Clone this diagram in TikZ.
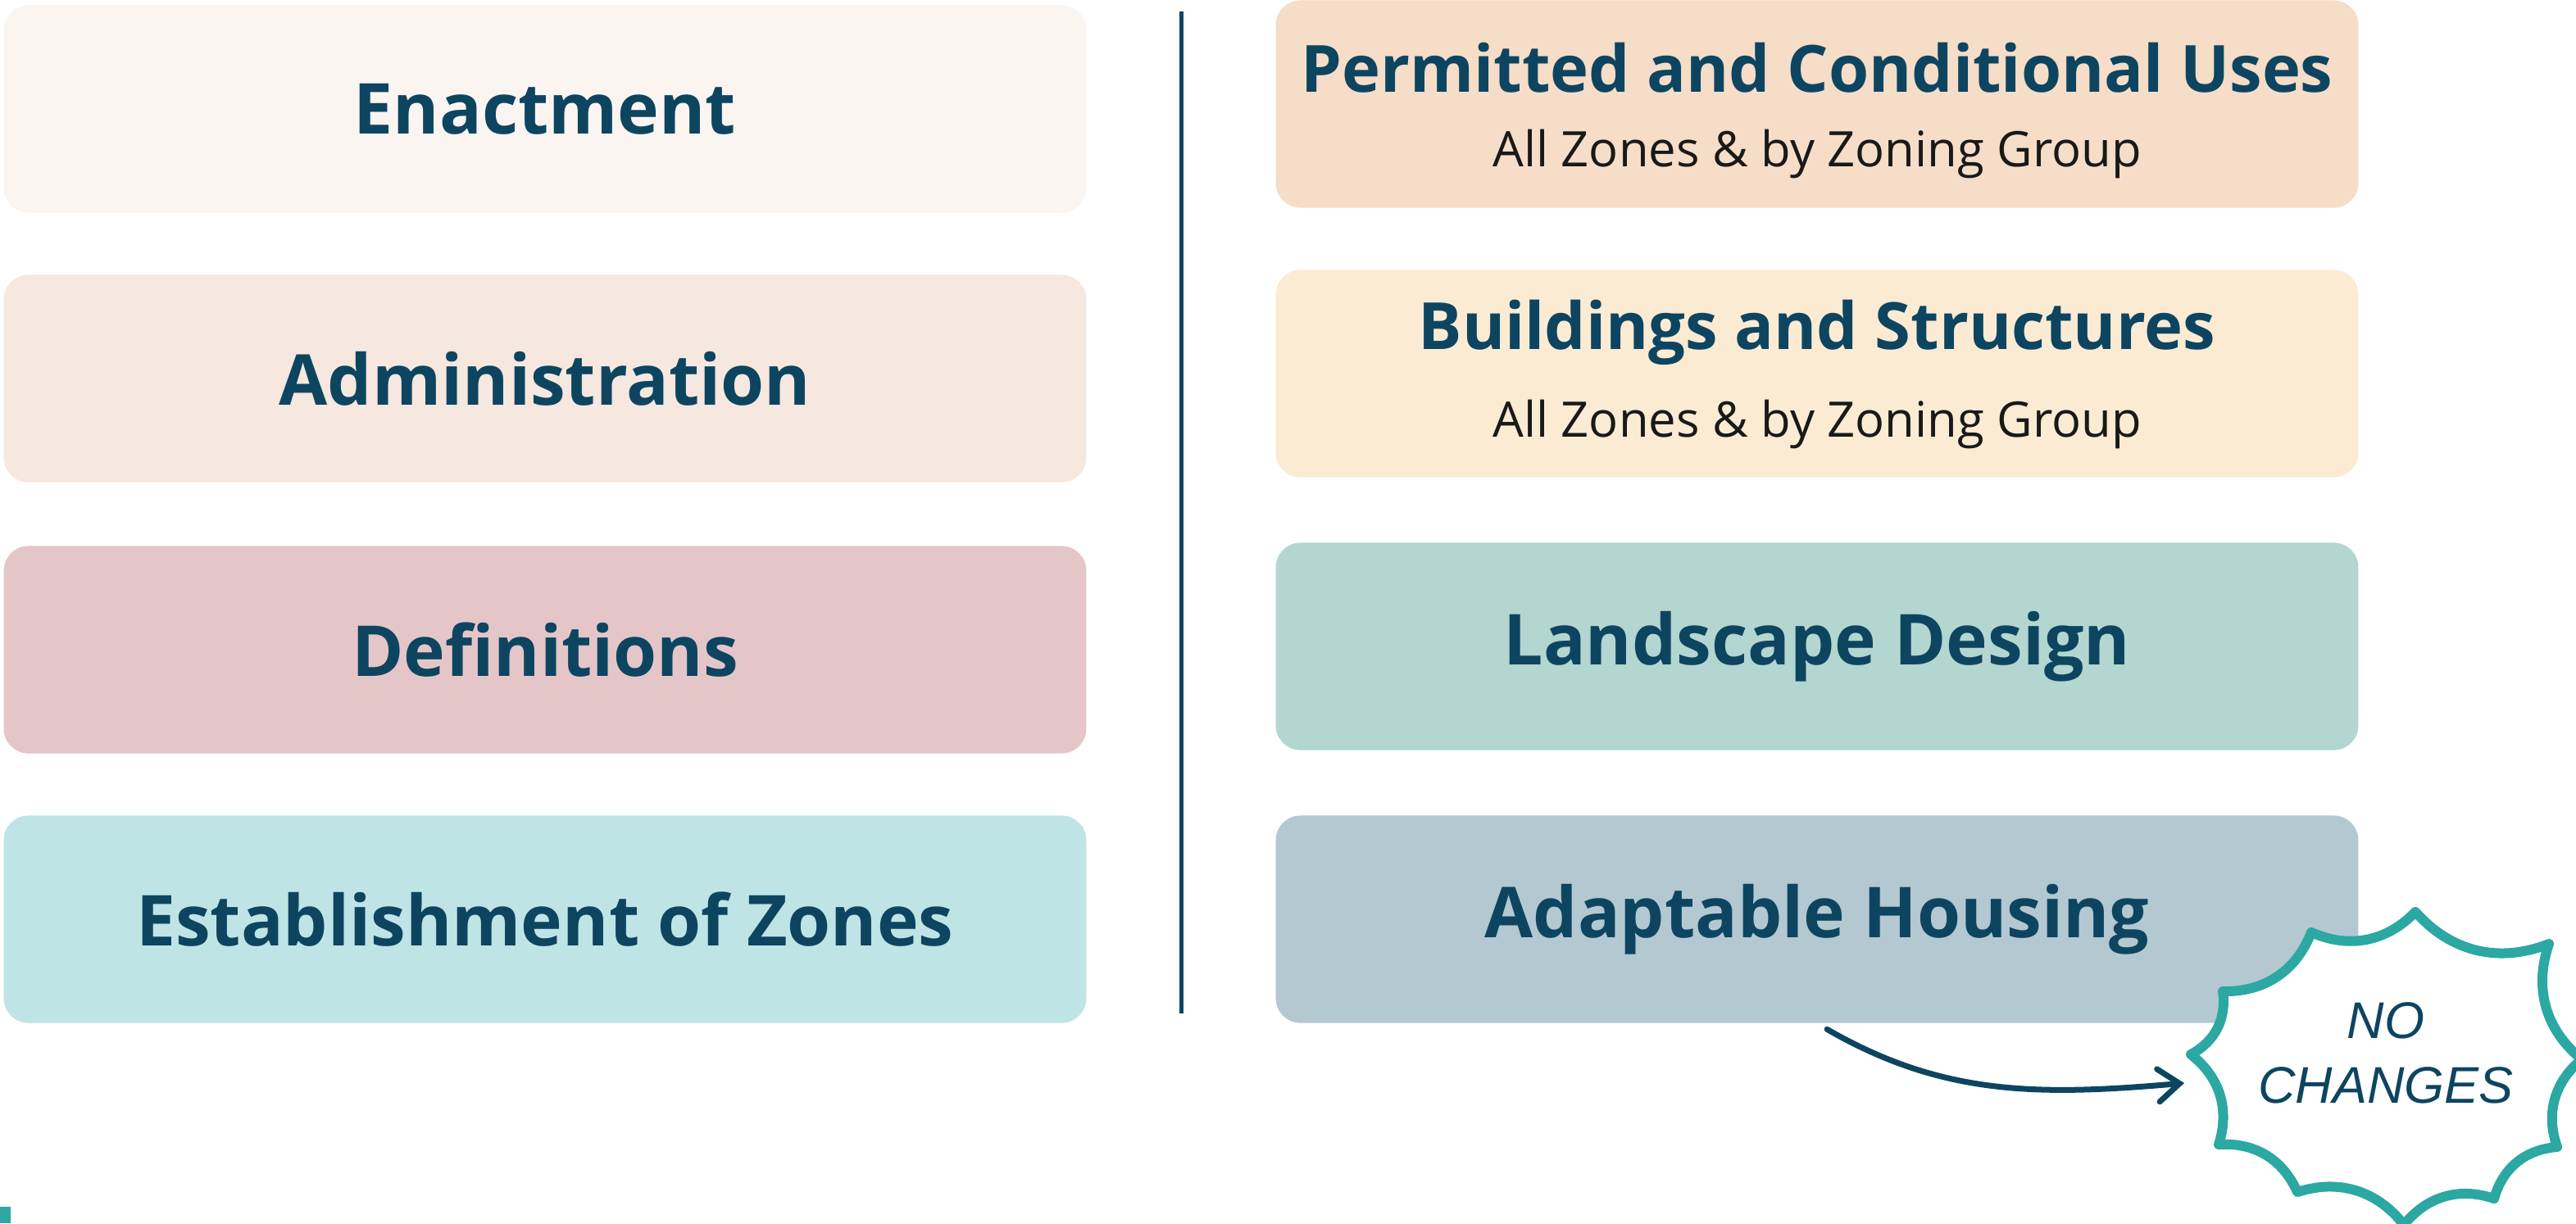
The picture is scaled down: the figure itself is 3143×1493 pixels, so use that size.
\documentclass[tikz,border=0pt]{standalone}
\usepackage{fontspec}
\setmainfont{Open Sans}
\newfontfamily\burstfont{Liberation Sans}
\usepackage{tikz}
\usetikzlibrary{positioning, arrows.meta}

\definecolor{ink}{HTML}{0D4561}
\definecolor{spark}{HTML}{2BA8A2}
\definecolor{enactbg}{HTML}{FBF5F2}
\definecolor{adminbg}{HTML}{F6E7DF}
\definecolor{definbg}{HTML}{E5C6C8}
\definecolor{estabbg}{HTML}{BFE4E5}
\definecolor{permitbg}{HTML}{F5DDC8}
\definecolor{buildbg}{HTML}{FBEBD3}
\definecolor{landbg}{HTML}{B4D6D0}
\definecolor{adaptbg}{HTML}{B4C8D2}

\tikzset{
  panel/.style={rounded corners=0.3cm, minimum width=13.2cm, minimum height=2.53cm,
    inner sep=0pt, text=ink, font=\fontsize{24.4}{28}\selectfont\bfseries},
  subline/.style={anchor=base, text=black!90, font=\fontsize{17}{20}\selectfont},
  headline/.style={anchor=base, text=ink, font=\fontsize{22.6}{26}\selectfont\bfseries},
  flow/.style={draw=ink, line width=0.07cm, line cap=round,
    -{Straight Barb[length=0.26cm, width=0.4cm, line cap=round]}},
  burst/.style={draw=spark, fill=white, line width=0.12cm, line join=round},
}

\begin{document}
\begin{tikzpicture}[x=0.01cm, y=-0.01cm]
    \useasboundingbox (0,0) rectangle (3143,1493);
    \fill[white] (0,0) rectangle (3143,1493);

    % Left column
    \foreach \n/\y/\c/\t in {enact/133/enactbg/Enactment, admin/462/adminbg/Administration,
      defin/793/definbg/Definitions, estab/1122/estabbg/Establishment of Zones} {
      \node[panel, fill=\c] (\n) at (665,\y) {\t};
    }

    % Divider
    \draw[ink, line width=0.05cm] (1441,14) -- (1441,1237);

    % Right column
    \foreach \n/\y/\c/\t in {permit/127/permitbg/{}, build/456/buildbg/{},
      land/789/landbg/Landscape Design, adapt/1122/adaptbg/Adaptable Housing} {
      \node[panel, fill=\c] (\n) at (2217,\y) {\t};
    }
    \node[headline] (permit-head) at (2217,112) {Permitted and Conditional Uses};
    \node[subline] (permit-sub) at (2217,203) {All Zones \& by Zoning Group};
    \node[headline] (build-head) at (2217,426) {Buildings and Structures};
    \node[subline] (build-sub) at (2217,533) {All Zones \& by Zoning Group};

    % Burst
    \draw[burst] (2947,1113) to[bend left=35] (2820,1138) to[bend left=35] (2712,1210)
      to[bend left=35] (2673,1287) to[bend left=35] (2707,1397) to[bend left=35] (2803,1455)
      to[bend left=35] (2933,1495) to[bend left=35] (3043,1463) to[bend left=35] (3120,1400)
      to[bend left=35] (3150,1293) to[bend left=35] (3110,1152) to[bend left=35] cycle;
    \node[text=ink, align=center, font=\burstfont\itshape\fontsize{17.9}{22.5}\selectfont]
      (nochg) at (2911,1285) {NO\\CHANGES};

    % Arrow
    \coordinate (nochg-in) at (2665,1322);
    \draw[flow, shorten <=0.14cm] (adapt.south) to[out=-30, in=185] (nochg-in);

    \fill[spark] (0,1473) rectangle (13,1493);
\end{tikzpicture}
\end{document}
